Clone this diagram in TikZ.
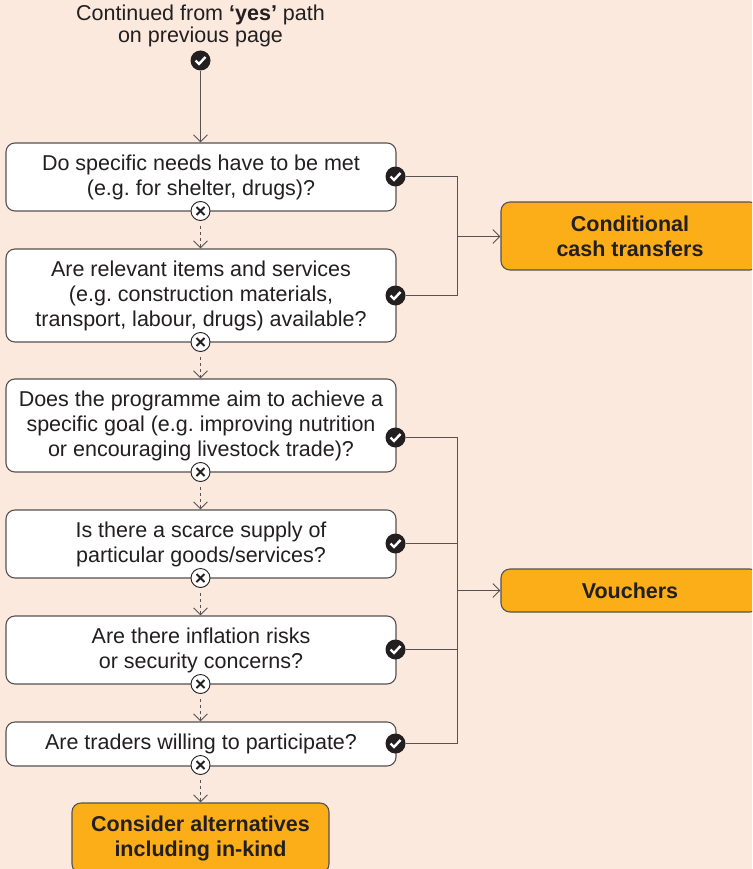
\documentclass[tikz,border=0pt]{standalone}
\usepackage{fontspec}
\setmainfont{Liberation Sans}
\usetikzlibrary{arrows.meta}

\definecolor{pagebg}{HTML}{FBE9DD}
\definecolor{ink}{HTML}{231F20}
\definecolor{wire}{HTML}{565152}
\definecolor{amber}{HTML}{FBAE17}

\tikzset{
    question/.style={draw=wire, line width=1.1, fill=white, rounded corners=9, inner sep=0, align=center, text=ink, minimum width=390, font=\fontsize{21.5}{25}\selectfont\frenchspacing},
    result/.style={draw=wire, line width=1.1, fill=amber, rounded corners=9, inner sep=0, align=center, text=ink, font=\fontsize{21.5}{25}\selectfont\bfseries},
    yesmark/.style={circle, fill=ink, inner sep=0, minimum size=20, path picture={\draw[white, line width=2.4] ([shift={(-5,0)}]path picture bounding box.center) -- ([shift={(-1.5,3.5)}]path picture bounding box.center) -- ([shift={(5,-3.5)}]path picture bounding box.center);}},
    nomark/.style={circle, draw=ink, line width=0.9, fill=white, inner sep=0, minimum size=19, path picture={\draw[ink, line width=1.9] ([shift={(-4,-4)}]path picture bounding box.center) -- ([shift={(4,4)}]path picture bounding box.center) ([shift={(-4,4)}]path picture bounding box.center) -- ([shift={(4,-4)}]path picture bounding box.center);}},
    yesline/.style={draw=wire, line width=1.1},
    yesarrow/.style={yesline, -{Straight Barb[length=7, width=14, line width=0.9]}},
    noarrow/.style={yesarrow, dash pattern=on 3 off 3, shorten <=5}
}

\begin{document}
\begin{tikzpicture}[x=1pt, y=-1pt]
    \useasboundingbox (0,0) rectangle (752,869);
    \clip (0,0) rectangle (752,869);
    \fill[pagebg] (0,0) rectangle (752,869);

    \node[align=center, text=ink, font=\fontsize{21.5}{22}\selectfont] (start) at (200.5,26) {Continued from \textbf{‘yes’} path\\on previous page};
    \node[yesmark] (startyes) at (200.5,60.5) {};

    % question boxes
    \node[question, minimum height=68] (needs) at (201,177) {Do specific needs have to be met\\(e.g. for shelter, drugs)?};
    \node[question, minimum height=93] (items) at (201,295.5) {Are relevant items and services\\(e.g. construction materials,\\transport, labour, drugs) available?};
    \node[question, minimum height=93] (goal) at (201,425.5) {Does the programme aim to achieve a\\specific goal (e.g. improving nutrition\\or encouraging livestock trade)?};
    \node[question, minimum height=68] (supply) at (201,544) {Is there a scarce supply of\\particular goods/services?};
    \node[question, minimum height=68] (risks) at (201,650) {Are there inflation risks\\or security concerns?};
    \node[question, minimum height=44] (traders) at (201,744) {Are traders willing to participate?};

    % results
    \node[result, minimum width=258, minimum height=68] (cash) at (630,236) {Conditional\\cash transfers};
    \node[result, minimum width=258, minimum height=43] (vouchers) at (630,590.5) {Vouchers};
    \node[result, minimum width=257, minimum height=70] (alt) at (200.5,838) {Consider alternatives\\including in-kind};

    % yes marks
    \node[yesmark] (needsyes) at (395.5,176.5) {};
    \node[yesmark] (itemsyes) at (395.5,295.5) {};
    \node[yesmark] (goalyes) at (395.5,437.5) {};
    \node[yesmark] (supplyyes) at (395.5,543.5) {};
    \node[yesmark] (risksyes) at (395.5,649.5) {};
    \node[yesmark] (tradersyes) at (395.5,743.5) {};

    % no marks
    \node[nomark] (needsno) at (200.5,211) {};
    \node[nomark] (itemsno) at (200.5,342) {};
    \node[nomark] (goalno) at (200.5,472) {};
    \node[nomark] (supplyno) at (200.5,578) {};
    \node[nomark] (risksno) at (200.5,684) {};
    \node[nomark] (tradersno) at (200.5,765) {};

    % junctions
    \coordinate (cashjoin) at (457.5,236.5);
    \coordinate (voucherjoin) at (457.5,590.5);

    \draw[yesarrow] (startyes) -- (needs.north -| startyes);
    \draw[noarrow] (needsno) -- (items.north -| needsno);
    \draw[noarrow] (itemsno) -- (goal.north -| itemsno);
    \draw[noarrow] (goalno) -- (supply.north -| goalno);
    \draw[noarrow] (supplyno) -- (risks.north -| supplyno);
    \draw[noarrow] (risksno) -- (traders.north -| risksno);
    \draw[noarrow] (tradersno) -- (alt.north -| tradersno);

    \draw[yesline] (needsyes) -| (cashjoin);
    \draw[yesline] (itemsyes) -| (cashjoin);
    \draw[yesarrow] (cashjoin) -- (cash.west |- cashjoin);

    \draw[yesline] (goalyes) -| (voucherjoin);
    \draw[yesline] (supplyyes) -| (voucherjoin);
    \draw[yesline] (risksyes) -| (voucherjoin);
    \draw[yesline] (tradersyes) -| (voucherjoin);
    \draw[yesarrow] (voucherjoin) -- (vouchers.west |- voucherjoin);
\end{tikzpicture}
\end{document}
